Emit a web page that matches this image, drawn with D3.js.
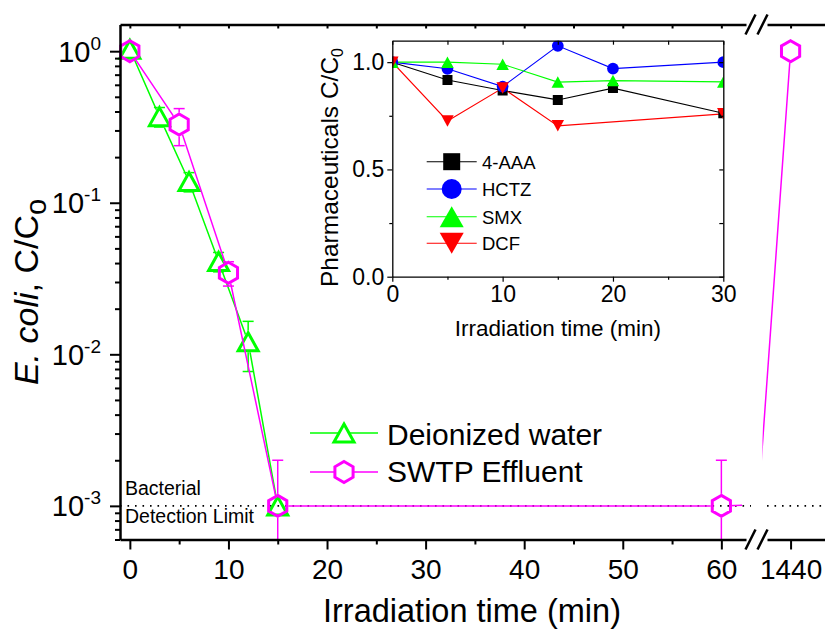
<!DOCTYPE html>
<html>
<head>
<meta charset="utf-8">
<script src="https://cdn.jsdelivr.net/npm/d3@7"></script>
<style>
  html, body { margin: 0; padding: 0; background: #fff; }
  svg { display: block; font-family: "Liberation Sans", Arial, Helvetica, sans-serif; }
</style>
</head>
<body>
<svg id="chart" width="825" height="629"></svg>
<script>
// ---- Main panel: E. coli inactivation (C/Co, log scale) ----
const timeDI   = [0, 3, 6, 9, 12, 15];
const ratioDI  = [1.03, 0.37, 0.138, 0.041, 0.0121, 0.001];
const errDI    = [0, 0.055, 0.02, 0.006, 0.0044, 0];

const timeSWTP  = [0, 5, 10, 15, 60, 1440];
const ratioSWTP = [1.0, 0.328, 0.0345, 0.001, 0.001, 1.0];
const errSWTP   = [0, 0.09, 0.0063, 0.001, 0.001, 0];

const detectionLimit = 0.001;

const xTicksMain   = [0, 10, 20, 30, 40, 50, 60];
const xMinorMain   = [5, 15, 25, 35, 45, 55];
const xTicksBreak  = [1440];
const yTickValues  = [1e-3, 1e-2, 1e-1, 1];
const yTickExps    = ["-3", "-2", "-1", "0"];

const seriesNames = ["Deionized water", "SWTP Effluent"];

// ---- Inset: pharmaceuticals C/C0 ----
const insetTime = [0, 5, 10, 15, 20, 30];
const aaa4  = [1.0, 0.917, 0.868, 0.824, 0.879, 0.762];
const hctz  = [1.0, 0.969, 0.886, 1.076, 0.970, 1.0];
const smx   = [1.0, 1.0, 0.99, 0.907, 0.914, 0.908];
const dcfTime = [0, 5, 10, 15, 30];
const dcf   = [1.0, 0.726, 0.879, 0.703, 0.759];
const insetNames = ["4-AAA", "HCTZ", "SMX", "DCF"];
const insetXTicks = [0, 10, 20, 30];
const insetXMinor = [5, 15, 25];
const insetYTicks = [0, 0.5, 1.0];
const insetYMinor = [0.25, 0.75];

// ---------------------------------------------------------------
const GREEN = "#00ff00", MAGENTA = "#ff00ff", BLUE = "#0000ff", RED = "#ff0000";
const svg = d3.select("#chart");

const P = { left: 120, top: 24.5, bottom: 539.5, seg1End: 746, seg2Start: 767, right: 825 };
const x1 = d3.scaleLinear().domain([-1, 62.5]).range([P.left, P.seg1End]);
const x2 = d3.scaleLinear().domain([440, 2900]).range([P.seg2Start, P.right]);
const y  = d3.scaleLog().domain([6e-4, 1.5]).range([P.bottom, P.top]);
const inSeg1 = t => t <= x1.domain()[1];
const xPos = t => inSeg1(t) ? x1(t) : x2(t);

// marker shapes
function triPath(w, h, dir) {
  return dir > 0
    ? `M0,${-h/2}L${w/2},${h/2}L${-w/2},${h/2}Z`
    : `M0,${h/2}L${w/2},${-h/2}L${-w/2},${-h/2}Z`;
}
function hexPath(R) {
  const pts = d3.range(6).map(i => {
    const a = (-90 + 60 * i) * Math.PI / 180;
    return [R * Math.cos(a), R * Math.sin(a)];
  });
  return "M" + pts.map(p => p.join(",")).join("L") + "Z";
}
const triMain = triPath(20, 18, 1);
const hexMain = hexPath(10.5);

const defs = svg.append("defs");
// clip areas for the two axis segments
defs.append("clipPath").attr("id", "clipSeg1").append("rect")
  .attr("x", 0).attr("y", P.top).attr("width", 742).attr("height", P.bottom - P.top);
defs.append("clipPath").attr("id", "clipSeg2").append("rect")
  .attr("x", 762.5).attr("y", P.top).attr("width", P.right - 762.5).attr("height", P.bottom - P.top);

const dataDI   = timeDI.map((t, i) => ({ t, v: ratioDI[i], e: errDI[i] }));
const dataSWTP = timeSWTP.map((t, i) => ({ t, v: ratioSWTP[i], e: errSWTP[i] }));

// masks leave a gap in lines / error bars where the open symbols sit
function makeMask(id, data, path) {
  const m = defs.append("mask").attr("id", id)
    .attr("maskUnits", "userSpaceOnUse").attr("x", 0).attr("y", 0)
    .attr("width", 825).attr("height", 629);
  m.append("rect").attr("width", 825).attr("height", 629).attr("fill", "#fff");
  m.selectAll("path").data(data).join("path")
    .attr("d", path)
    .attr("transform", d => `translate(${xPos(d.t)},${y(d.v)})`)
    .attr("fill", "#000").attr("stroke", "#000").attr("stroke-width", 3);
}
makeMask("maskDI", dataDI, triMain);
makeMask("maskSWTP", dataSWTP, hexMain);

// ---- detection limit reference (dotted) ----
const dl = svg.append("g");
[[P.left, 751], [P.seg2Start, P.right]].forEach(([a, b]) => {
  dl.append("line").attr("x1", a).attr("x2", b)
    .attr("y1", y(detectionLimit)).attr("y2", y(detectionLimit))
    .attr("stroke", "#000").attr("stroke-width", 1.6).attr("stroke-dasharray", "1.6,5.9");
});
svg.append("text").attr("x", 125).attr("y", 495).attr("font-size", 19.5).text("Bacterial");
svg.append("text").attr("x", 125).attr("y", 523).attr("font-size", 19.5).text("Detection Limit");

// ---- series drawing ----
function drawSeries(data, color, maskId, path) {
  const g = svg.append("g");
  const lined = g.append("g").attr("mask", `url(#${maskId})`);
  [["clipSeg1", x1], ["clipSeg2", x2]].forEach(([clip, xs]) => {
    const seg = lined.append("g").attr("clip-path", `url(#${clip})`);
    seg.append("path").datum(data)
      .attr("d", d3.line().x(d => xs(d.t)).y(d => y(d.v)))
      .attr("fill", "none").attr("stroke", color).attr("stroke-width", 1.5);
  });
  // error bars
  const eb = lined.append("g").attr("stroke", color).attr("stroke-width", 1.5);
  data.filter(d => d.e > 0).forEach(d => {
    const cx = xPos(d.t);
    const yTop = y(d.v + d.e);
    const low = d.v - d.e;
    const yBot = low > y.domain()[0] ? y(low) : P.bottom;
    eb.append("line").attr("x1", cx).attr("x2", cx).attr("y1", yTop).attr("y2", yBot);
    eb.append("line").attr("x1", cx - 5.5).attr("x2", cx + 5.5).attr("y1", yTop).attr("y2", yTop);
    if (low > y.domain()[0])
      eb.append("line").attr("x1", cx - 5.5).attr("x2", cx + 5.5).attr("y1", yBot).attr("y2", yBot);
  });
  g.append("g").selectAll("path").data(data).join("path")
    .attr("d", path)
    .attr("transform", d => `translate(${xPos(d.t)},${y(d.v)})`)
    .attr("fill", "none").attr("stroke", color).attr("stroke-width", 3)
    .attr("stroke-linejoin", "miter");
}
drawSeries(dataDI, GREEN, "maskDI", triMain);
drawSeries(dataSWTP, MAGENTA, "maskSWTP", hexMain);

// ---- axes ----
function styleAxis(g, width) {
  g.selectAll(".domain").attr("stroke", "#000").attr("stroke-width", width);
  g.selectAll(".tick line").attr("stroke", "#000").attr("stroke-width", width * 0.8);
  g.selectAll(".tick text").attr("fill", "#000");
}
const FONT = '"Liberation Sans", Arial, sans-serif';

// bottom axis, segment 1 and 2
const gB1 = svg.append("g").attr("transform", `translate(0,${P.bottom})`)
  .call(d3.axisBottom(x1).tickValues(xTicksMain).tickSize(10).tickSizeOuter(0).tickPadding(10).tickFormat(d3.format("d")));
const gB1m = svg.append("g").attr("transform", `translate(0,${P.bottom})`)
  .call(d3.axisBottom(x1).tickValues(xMinorMain).tickSize(5).tickFormat(""));
gB1m.select(".domain").remove();
const gB2 = svg.append("g").attr("transform", `translate(0,${P.bottom})`)
  .call(d3.axisBottom(x2).tickValues(xTicksBreak).tickSize(10).tickSizeOuter(0).tickPadding(10).tickFormat(d3.format("d")));
[gB1, gB1m, gB2].forEach(g => {
  styleAxis(g, 2.5);
  g.selectAll(".tick text").attr("font-size", 28).attr("font-family", FONT);
});

// top axis (inward ticks)
const gT1 = svg.append("g").attr("transform", `translate(0,${P.top})`)
  .call(d3.axisTop(x1).tickValues(xTicksMain.concat(xMinorMain)).tickSize(-4).tickSizeOuter(0).tickFormat(""));
const gT2 = svg.append("g").attr("transform", `translate(0,${P.top})`)
  .call(d3.axisTop(x2).tickValues(xTicksBreak).tickSize(-4).tickSizeOuter(0).tickFormat(""));
[gT1, gT2].forEach(g => styleAxis(g, 2.5));

// left axis (log)
const yMinor = y.ticks().filter(v => !yTickValues.some(m => Math.abs(m - v) / m < 1e-9));
const gL = svg.append("g").attr("transform", `translate(${P.left},0)`)
  .call(d3.axisLeft(y).tickValues(yTickValues).tickSize(10).tickSizeOuter(0).tickFormat(""));
const gLm = svg.append("g").attr("transform", `translate(${P.left},0)`)
  .call(d3.axisLeft(y).tickValues(yMinor).tickSize(5).tickFormat(""));
gLm.select(".domain").remove();
[gL, gLm].forEach(g => styleAxis(g, 2.5));
// power-of-ten labels
const yl = svg.append("g").attr("font-size", 29).attr("text-anchor", "end");
yTickValues.forEach((v, i) => {
  const t = yl.append("text").attr("x", 101).attr("y", y(v) + 10.5);
  t.append("tspan").text("10");
  t.append("tspan").attr("font-size", 19).attr("dy", -12).text(yTickExps[i]);
});

// break marks
const breakX = (P.seg1End + P.seg2Start) / 2;
[P.top, P.bottom].forEach(yy => {
  [-6, 6].forEach(off => {
    svg.append("line")
      .attr("x1", breakX + off - 5).attr("y1", yy + 10)
      .attr("x2", breakX + off + 5).attr("y2", yy - 10)
      .attr("stroke", "#000").attr("stroke-width", 2.5);
  });
});

// axis titles
svg.append("text").attr("x", 472).attr("y", 622).attr("text-anchor", "middle")
  .attr("font-size", 32.5).text("Irradiation time (min)");
const yTitle = svg.append("text").attr("transform", "translate(38,292) rotate(-90)")
  .attr("text-anchor", "middle").attr("font-size", 34);
yTitle.append("tspan").attr("font-style", "italic").text("E. coli");
yTitle.append("tspan").text(", C/C");
yTitle.append("tspan").attr("font-size", 29).attr("dy", 8).text("o");

// legend
const leg = svg.append("g");
[[GREEN, triMain, 433, 445], [MAGENTA, hexMain, 472, 482]].forEach(([c, p, ly, ty], i) => {
  leg.append("line").attr("x1", 310).attr("x2", 378).attr("y1", ly).attr("y2", ly)
    .attr("stroke", c).attr("stroke-width", 1.5);
  leg.append("path").attr("d", p).attr("transform", `translate(344,${ly})`)
    .attr("fill", "#fff").attr("stroke", c).attr("stroke-width", 3);
  leg.append("text").attr("x", 387).attr("y", ty).attr("font-size", 30).text(seriesNames[i]);
});

// ================= inset =================
const I = { left: 392.3, right: 723.3, top: 40.7, bottom: 276.7 };
const xi = d3.scaleLinear().domain([0, 30]).range([I.left, I.right]);
const yi = d3.scaleLinear().domain([0, 1.1]).range([I.bottom, I.top]);

const ig = svg.append("g");
ig.append("rect").attr("x", I.left).attr("y", I.top)
  .attr("width", I.right - I.left).attr("height", I.bottom - I.top).attr("fill", "#fff");
defs.append("clipPath").attr("id", "clipInset").append("rect")
  .attr("x", I.left).attr("y", I.top).attr("width", I.right - I.left).attr("height", I.bottom - I.top);

const sqPath = "M-5,-5H5V5H-5Z";
const circPath = d3.symbol(d3.symbolCircle, 108)();
const upPath = triPath(12.5, 11.5, 1);
const dnPath = triPath(12.5, 11.5, -1);

const insetSeries = [
  { t: insetTime, v: aaa4, color: "#000", shape: sqPath,   leg: "M-8.5,-8.5H8.5V8.5H-8.5Z" },
  { t: insetTime, v: hctz, color: BLUE,   shape: circPath, leg: d3.symbol(d3.symbolCircle, 314)() },
  { t: insetTime, v: smx,  color: GREEN,  shape: upPath,   leg: triPath(24, 21, 1) },
  { t: dcfTime,   v: dcf,  color: RED,    shape: dnPath,   leg: triPath(24, 21, -1) }
];
const idata = insetSeries.map(s => s.t.map((t, i) => ({ t, v: s.v[i] })));
const plotG = ig.append("g").attr("clip-path", "url(#clipInset)");
insetSeries.forEach((s, k) => {
  plotG.append("path").datum(idata[k])
    .attr("d", d3.line().x(d => xi(d.t)).y(d => yi(d.v)))
    .attr("fill", "none").attr("stroke", s.color).attr("stroke-width", 1.1);
});
insetSeries.forEach((s, k) => {
  plotG.append("g").selectAll("path").data(idata[k]).join("path")
    .attr("d", s.shape)
    .attr("transform", d => `translate(${xi(d.t)},${yi(d.v)})`)
    .attr("fill", s.color);
});

// inset axes
function insetAxis(g) {
  g.selectAll(".domain").attr("stroke", "#000").attr("stroke-width", 1.3);
  g.selectAll(".tick line").attr("stroke", "#000").attr("stroke-width", 1.2);
  g.selectAll(".tick text").attr("fill", "#000").attr("font-size", 23).attr("font-family", FONT);
}
const ib = ig.append("g").attr("transform", `translate(0,${I.bottom})`)
  .call(d3.axisBottom(xi).tickValues(insetXTicks).tickSize(5).tickSizeOuter(0).tickPadding(4).tickFormat(d3.format("d")));
const ibm = ig.append("g").attr("transform", `translate(0,${I.bottom})`)
  .call(d3.axisBottom(xi).tickValues(insetXMinor).tickSize(3).tickFormat(""));
ibm.select(".domain").remove();
const it = ig.append("g").attr("transform", `translate(0,${I.top})`)
  .call(d3.axisTop(xi).tickValues(insetXTicks.concat(insetXMinor)).tickSize(-4).tickSizeOuter(0).tickFormat(""));
const il = ig.append("g").attr("transform", `translate(${I.left},0)`)
  .call(d3.axisLeft(yi).tickValues(insetYTicks).tickSize(5).tickSizeOuter(0).tickPadding(3).tickFormat(d3.format(".1f")));
const ilm = ig.append("g").attr("transform", `translate(${I.left},0)`)
  .call(d3.axisLeft(yi).tickValues(insetYMinor).tickSize(3).tickFormat(""));
ilm.select(".domain").remove();
const ir = ig.append("g").attr("transform", `translate(${I.right},0)`)
  .call(d3.axisRight(yi).tickValues(insetYTicks.concat(insetYMinor)).tickSize(-4).tickSizeOuter(0).tickFormat(""));
[ib, ibm, it, il, ilm, ir].forEach(insetAxis);

// inset titles
ig.append("text").attr("x", xi(15)).attr("y", 336).attr("text-anchor", "middle")
  .attr("font-size", 22.5).text("Irradiation time (min)");
const iyt = ig.append("text").attr("transform", "translate(338,167.5) rotate(-90)")
  .attr("text-anchor", "middle").attr("font-size", 24.5);
iyt.append("tspan").text("Pharmaceuticals C/C");
iyt.append("tspan").attr("font-size", 16).attr("dy", 5).text("0");

// inset legend
const legRows = [161.7, 189, 216.7, 243.3];
insetSeries.forEach((s, k) => {
  const ly = legRows[k];
  ig.append("line").attr("x1", 426.7).attr("x2", 476.7).attr("y1", ly).attr("y2", ly)
    .attr("stroke", s.color).attr("stroke-width", 1.1);
  ig.append("path").attr("d", s.leg).attr("transform", `translate(451.7,${ly})`).attr("fill", s.color);
  ig.append("text").attr("x", 482).attr("y", ly + 6.8).attr("font-size", 18.5).text(insetNames[k]);
});
</script>
</body>
</html>
